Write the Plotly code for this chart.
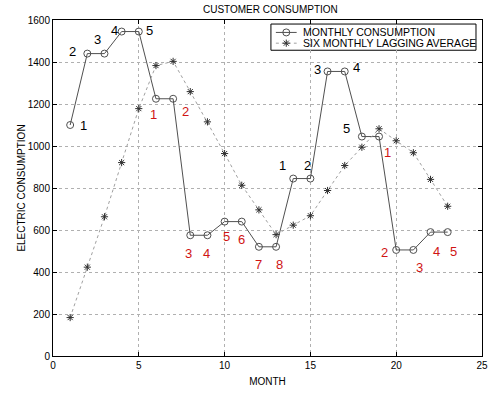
import plotly.graph_objects as go

# Monthly electricity consumption and its six-month lagging average
months = list(range(1, 24))
monthly = [1100, 1440, 1440, 1545, 1545, 1225, 1225, 575, 575, 640, 640, 520,
           520, 845, 845, 1355, 1355, 1045, 1045, 505, 505, 590, 590]
lagging = [183, 423, 663, 921, 1178, 1383, 1403, 1259, 1115, 964, 813, 696,
           578, 623, 668, 788, 907, 994, 1082, 1025, 968, 841, 713]

# Count labels placed beside the points (text, x, y, colour key)
label_text = ["1", "2", "3", "4", "5",
              "1", "2", "3", "4", "5", "6", "7", "8",
              "1", "2", "3", "4", "5",
              "1", "2", "3", "4", "5"]
label_x = [1.78, 1.15, 2.59, 3.56, 5.63,
           5.86, 7.72, 7.91, 8.93, 10.13, 10.96, 11.95, 13.2,
           13.39, 14.81, 15.42, 17.66, 17.1,
           19.52, 19.31, 21.34, 22.34, 23.35]
label_y = [1096, 1451, 1507, 1548, 1548,
           1149, 1165, 486, 486, 569, 556, 438, 438,
           905, 905, 1363, 1375, 1083,
           971, 492, 422, 500, 500]
label_kind = ["up"] * 5 + ["down"] * 8 + ["up"] * 5 + ["down"] * 5

series_names = ["MONTHLY CONSUMPTION", "SIX MONTHLY LAGGING AVERAGE"]

FONT = "Liberation Sans, Arial, sans-serif"
kind_colour = {"up": "#000000", "down": "#d01414"}

main_line = dict(color="#505050", width=1)
main_marker = dict(symbol="circle-open", size=7, color="#505050", line=dict(width=1))
avg_line = dict(color="#a0a0a0", width=1, dash="dot")
avg_marker = dict(symbol="asterisk-open", size=6, color="#303030",
                  line=dict(width=1, color="#303030"))

fig = go.Figure()
fig.add_trace(go.Scatter(x=months, y=monthly, mode="lines+markers",
                         name=series_names[0], line=main_line, marker=main_marker,
                         showlegend=False))
fig.add_trace(go.Scatter(x=months, y=lagging, mode="lines+markers",
                         name=series_names[1], line=avg_line, marker=avg_marker,
                         showlegend=False))

for t, x, y, k in zip(label_text, label_x, label_y, label_kind):
    fig.add_annotation(x=x, y=y, xref="x", yref="y", text=t, showarrow=False,
                       font=dict(family=FONT, size=13, color=kind_colour[k]))

# Compact boxed key in the upper right, drawn on an overlay axis in plot fractions
key_left, key_right, key_top, key_bottom = 0.508, 0.986, 0.988, 0.910
key_rows = [0.963, 0.931]
seg_x0, seg_x1, text_x = 0.5195, 0.568, 0.577
fig.add_shape(type="rect", xref="paper", yref="paper",
              x0=key_left, x1=key_right, y0=key_bottom, y1=key_top,
              line=dict(color="#000000", width=1), fillcolor="#ffffff", layer="between")
for row_y, name, ln, mk in zip(key_rows, series_names,
                                [main_line, avg_line], [main_marker, avg_marker]):
    fig.add_trace(go.Scatter(x=[seg_x0, seg_x1], y=[row_y, row_y], mode="lines",
                             line=ln, xaxis="x2", yaxis="y2", showlegend=False,
                             hoverinfo="skip"))
    fig.add_trace(go.Scatter(x=[(seg_x0 + seg_x1) / 2], y=[row_y], mode="markers",
                             marker=mk, xaxis="x2", yaxis="y2", showlegend=False,
                             hoverinfo="skip"))
    fig.add_annotation(x=text_x, y=row_y, xref="paper", yref="paper", text=name,
                       showarrow=False, xanchor="left", yanchor="middle",
                       font=dict(family=FONT, size=10.5, color="#000000"))

axis_common = dict(
    showline=True, mirror="ticks", linecolor="#000000", linewidth=1,
    ticks="inside", ticklen=4, tickcolor="#000000",
    showgrid=True, gridcolor="#b0b0b0", griddash="dot", gridwidth=1,
    zeroline=False, tickfont=dict(family=FONT, size=10, color="#000000"),
)

fig.update_layout(
    width=497, height=394,
    margin=dict(l=53, r=9, t=20, b=31),
    paper_bgcolor="#ffffff", plot_bgcolor="#ffffff",
    title=dict(text="CUSTOMER CONSUMPTION", x=0.544, xanchor="center",
               y=0.977, yanchor="middle",
               font=dict(family=FONT, size=10, color="#000000")),
    xaxis=dict(range=[0, 25], dtick=5, tick0=0,
               title=dict(text="MONTH", standoff=7,
                          font=dict(family=FONT, size=10, color="#000000")),
               **axis_common),
    yaxis=dict(range=[0, 1600], dtick=200, tick0=0,
               title=dict(text="ELECTRIC CONSUMPTION", standoff=0,
                          font=dict(family=FONT, size=10, color="#000000")),
               **axis_common),
    xaxis2=dict(overlaying="x", range=[0, 1], visible=False, fixedrange=True),
    yaxis2=dict(overlaying="y", range=[0, 1], visible=False, fixedrange=True),
    showlegend=False,
)

fig.write_html("out.html")
